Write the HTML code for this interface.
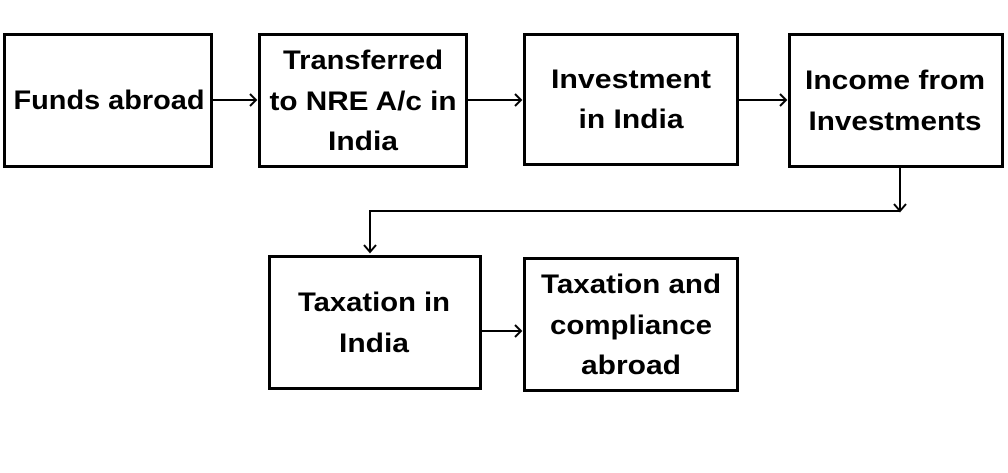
<!DOCTYPE html>
<html><head><meta charset="utf-8">
<style>html,body{margin:0;padding:0;background:#fff;}svg{display:block}</style>
</head><body>
<svg width="1008" height="473" viewBox="0 0 1008 473" xmlns="http://www.w3.org/2000/svg">
<g fill="none" stroke="#000" stroke-width="3">
<rect x="4.5" y="34.5" width="207" height="132"/>
<rect x="259.5" y="34.5" width="207" height="132"/>
<rect x="524.5" y="34.5" width="213" height="130"/>
<rect x="789.5" y="34.5" width="213" height="132"/>
<rect x="269.5" y="256.5" width="211" height="132"/>
<rect x="524.5" y="258.5" width="213" height="132"/>
</g>
<g fill="none" stroke="#000" stroke-width="2">
<path d="M213 100H256M250 94L256 100L250 106"/>
<path d="M468 100H521M515 94L521 100L515 106"/>
<path d="M739 100H786M780 94L786 100L780 106"/>
<path d="M900 168V211M894 204L900 211L906 204"/>
<path d="M900 211H370V252M364 245L370 252L376 245"/>
<path d="M482 331H521M515 325L521 331L515 337"/>
</g>
<g font-family="Liberation Sans, Arial, sans-serif" font-weight="bold" font-size="27" text-anchor="middle" fill="#000">
<text x="109" y="109" textLength="191" lengthAdjust="spacingAndGlyphs">Funds abroad</text>
<text x="363" y="69" textLength="160" lengthAdjust="spacingAndGlyphs">Transferred</text>
<text x="363" y="110" textLength="187" lengthAdjust="spacingAndGlyphs">to NRE A/c in</text>
<text x="363" y="150" textLength="70" lengthAdjust="spacingAndGlyphs">India</text>
<text x="631" y="88" textLength="160" lengthAdjust="spacingAndGlyphs">Investment</text>
<text x="631" y="128" textLength="105" lengthAdjust="spacingAndGlyphs">in India</text>
<text x="895" y="89" textLength="180" lengthAdjust="spacingAndGlyphs">Income from</text>
<text x="895" y="130" textLength="173" lengthAdjust="spacingAndGlyphs">Investments</text>
<text x="374" y="311" textLength="152" lengthAdjust="spacingAndGlyphs">Taxation in</text>
<text x="374" y="352" textLength="70" lengthAdjust="spacingAndGlyphs">India</text>
<text x="631" y="293" textLength="180" lengthAdjust="spacingAndGlyphs">Taxation and</text>
<text x="631" y="334" textLength="162" lengthAdjust="spacingAndGlyphs">compliance</text>
<text x="631" y="374" textLength="100" lengthAdjust="spacingAndGlyphs">abroad</text>
</g>
</svg>
</body></html>
